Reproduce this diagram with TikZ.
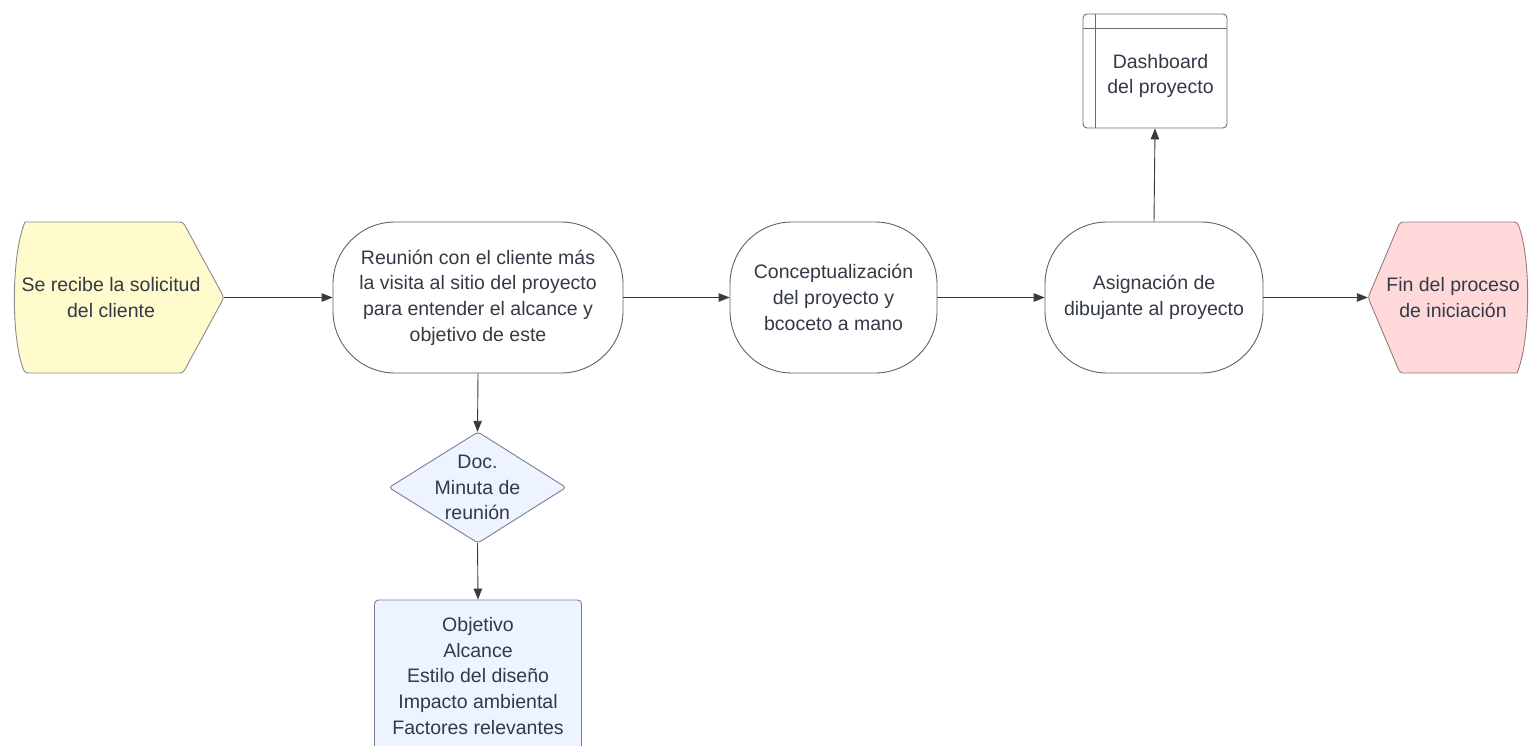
\documentclass[tikz,border=0pt]{standalone}
\usepackage{fontspec}
\setmainfont{Liberation Sans}
\usetikzlibrary{arrows.meta}
\definecolor{txt}{HTML}{333A45}
\definecolor{ln}{HTML}{3A3A3A}
\definecolor{yel}{HTML}{FFFBCC}
\definecolor{pnk}{HTML}{FFD9D9}
\definecolor{blu}{HTML}{EDF4FF}
\definecolor{edge}{HTML}{8A8A8A}
\tikzset{
  lbl/.style={text=txt, align=center, font=\fontsize{19.5}{25.6}\selectfont, inner sep=0pt},
  shapeline/.style={draw=edge, line width=0.9pt},
  proc/.style={lbl, shapeline, draw=ln!80, rounded corners=62pt, minimum height=151pt},
  conn/.style={draw=ln, line width=0.9pt, -{Triangle[length=11pt,width=8.5pt]}},
}
\begin{document}
\begin{tikzpicture}[x=1pt,y=-1pt]
\useasboundingbox (0,0) rectangle (1538,746);
\clip (0,0) rectangle (1538,746);
% start shape
\draw[shapeline, fill=yel, rounded corners=3pt] (25,222) -- (183,222) -- (224,297.5) -- (183,373) -- (25,373)
  [sharp corners] .. controls (11,340) and (11,255) .. (25,222) -- cycle;
\node[lbl, minimum width=209pt, minimum height=151pt] (start) at (119.5,297.5) {\hspace*{-17pt}Se recibe la solicitud\\\hspace*{-17pt}del cliente};
% end shape
\draw[shapeline, draw=edge!90!red, fill=pnk, rounded corners=3pt] (1368,297.5) -- (1400,222) -- (1517,222)
  [sharp corners] .. controls (1531,255) and (1531,340) .. (1517,373) [rounded corners=3pt] -- (1400,373) -- cycle;
\node[lbl, minimum width=160pt, minimum height=151pt] (fin) at (1448,297.5) {\hspace*{10pt}Fin del proceso\\\hspace*{10pt}de iniciación};
% process nodes
\node[proc, minimum width=290pt] (reu) at (478,297.5) {Reunión con el cliente más\\la visita al sitio del proyecto\\para entender el alcance y\\objetivo de este};
\node[proc, minimum width=207pt] (con) at (833.5,297.5) {Conceptualización\\del proyecto y\\bcoceto a mano};
\node[proc, minimum width=218pt] (asi) at (1154,297.5) {Asignación de\\dibujante al proyecto};
% dashboard
\node[shapeline, draw=ln!75, fill=white, rounded corners=4pt, minimum width=144pt, minimum height=114pt, inner sep=0pt] (dash) at (1155,71) {};
\draw[draw=ln!75, line width=0.9pt] (dash.north west) ++(13,0) -- ++(0,114);
\draw[draw=ln!75, line width=0.9pt] (dash.north west) ++(0,15) -- ++(144,0);
\node[lbl] (dasht) at (1160.5,76) {Dashboard\\del proyecto};
% diamond
\draw[shapeline, draw=edge!90!blue, fill=blu, rounded corners=3pt] (478,432) -- (566,487.5) -- (478,543) -- (389,487.5) -- cycle;
\node[lbl, minimum width=177pt, minimum height=111pt] (doc) at (477.5,487.5) {Doc.\\Minuta de\\reunión};
% notes box
\node[lbl, shapeline, draw=edge!90!blue, fill=blu, rounded corners=4pt, minimum width=207pt, minimum height=152pt] (obj) at (478,676) {Objetivo\\Alcance\\Estilo del diseño\\Impacto ambiental\\Factores relevantes};
% connectors
\draw[conn] (start.east) -- (reu.west);
\draw[conn] (reu.east) -- (con.west);
\draw[conn] (con.east) -- (asi.west);
\draw[conn] (asi.east) -- (fin.west);
\draw[conn] (asi.north) -- (dash.south);
\draw[conn] (reu.south) -- (doc.north);
\draw[conn] (doc.south) -- (obj.north);
\end{tikzpicture}
\end{document}
